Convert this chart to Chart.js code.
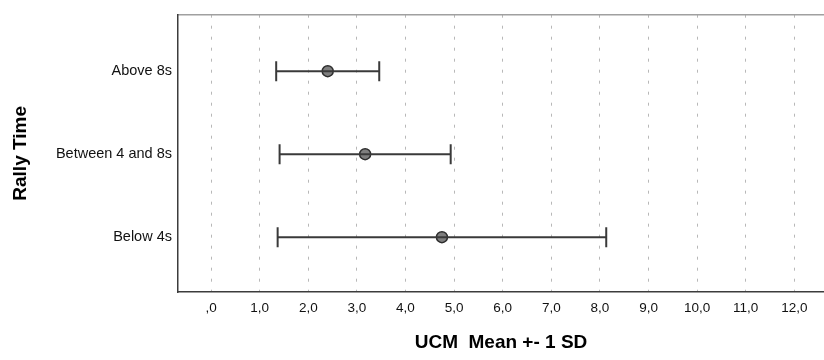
<!DOCTYPE html>
<html>
<head>
<meta charset="utf-8">
<script src="https://cdn.jsdelivr.net/npm/chart.js@4/dist/chart.umd.min.js"></script>
<style>
  html, body { margin: 0; padding: 0; background: #fff; }
  canvas { display: block; }
</style>
</head>
<body>
<canvas id="chart" width="824" height="360"></canvas>
<script>
// rally time groups, top to bottom
const categories = ['Above 8s', 'Between 4 and 8s', 'Below 4s'];
// UCM mean and one standard deviation per group
const means = [2.40, 3.17, 4.75];
const sds = [1.06, 1.76, 3.38];
// x axis ticks and their labels (comma decimals)
const xTicks = [0, 1, 2, 3, 4, 5, 6, 7, 8, 9, 10, 11, 12];
const xTickLabels = [',0', '1,0', '2,0', '3,0', '4,0', '5,0', '6,0', '7,0', '8,0', '9,0', '10,0', '11,0', '12,0'];

Chart.defaults.font.family = '"Liberation Sans", Arial, sans-serif';
Chart.defaults.color = '#111';

const barColor = '#3a3a3a';

// one line dataset per group for the +-1 SD whisker, caps drawn as rotated line points
const whiskers = categories.map((c, i) => ({
  label: c,
  data: [
    { x: means[i] - sds[i], y: i },
    { x: means[i] + sds[i], y: i },
  ],
  showLine: true,
  borderColor: barColor,
  borderWidth: 2,
  pointStyle: 'line',
  rotation: 90,
  pointRadius: 10,
  pointBorderWidth: 2,
  pointBorderColor: barColor,
  pointHoverRadius: 10,
}));

const meanPoints = {
  label: 'Mean',
  data: means.map((m, i) => ({ x: m, y: i })),
  pointRadius: 5.5,
  pointHoverRadius: 5.5,
  backgroundColor: '#7f7f7f',
  borderColor: '#2e2e2e',
  borderWidth: 1.5,
};

new Chart(document.getElementById('chart'), {
  type: 'scatter',
  data: { datasets: [...whiskers, meanPoints] },
  options: {
    responsive: false,
    animation: false,
    layout: { autoPadding: false, padding: { top: 13, left: 0, right: 0, bottom: 0 } },
    plugins: {
      legend: { display: false },
      tooltip: { enabled: false },
    },
    scales: {
      x: {
        type: 'linear',
        position: 'bottom',
        min: -0.68,
        max: 12.61,
        afterBuildTicks: (scale) => { scale.ticks = xTicks.map(v => ({ value: v })); },
        afterFit: (scale) => {
          scale.height = 68;
          scale.paddingLeft = 0;
          scale.paddingRight = 0;
        },
        ticks: {
          padding: 8,
          font: { size: 13.5 },
          maxRotation: 0,
          autoSkip: false,
          callback: (v) => xTickLabels[xTicks.indexOf(v)],
        },
        grid: {
          color: '#b8b8b8',
          lineWidth: 1,
          drawTicks: false,
        },
        border: { display: true, color: '#3c3c3c', width: 1.5, dash: [3, 8] },
        title: {
          display: true,
          text: 'UCM  Mean +- 1 SD',
          font: { size: 19, weight: 'bold' },
          color: '#000',
          padding: { top: 0, bottom: 6 },
        },
      },
      xTop: {
        type: 'linear',
        position: 'top',
        display: true,
        ticks: { display: false },
        grid: { display: false, drawTicks: false },
        border: { display: true, color: '#a0a0a0', width: 1.5 },
        afterFit: (scale) => {
          scale.height = 0;
          scale.paddingLeft = 0;
          scale.paddingRight = 0;
        },
      },
      y: {
        type: 'linear',
        reverse: true,
        min: -0.68,
        max: 2.66,
        afterBuildTicks: (scale) => { scale.ticks = categories.map((c, i) => ({ value: i })); },
        afterFit: (scale) => { scale.width = 178; },
        ticks: {
          padding: 6,
          font: { size: 14.5 },
          autoSkip: false,
          callback: (v) => categories[v],
        },
        grid: { display: false, drawTicks: false },
        border: { display: true, color: '#3c3c3c', width: 1.5 },
        title: {
          display: true,
          text: 'Rally Time',
          font: { size: 19, weight: 'bold' },
          color: '#000',
          padding: { top: 9, bottom: 0 },
        },
      },
    },
  },
});
</script>
</body>
</html>
